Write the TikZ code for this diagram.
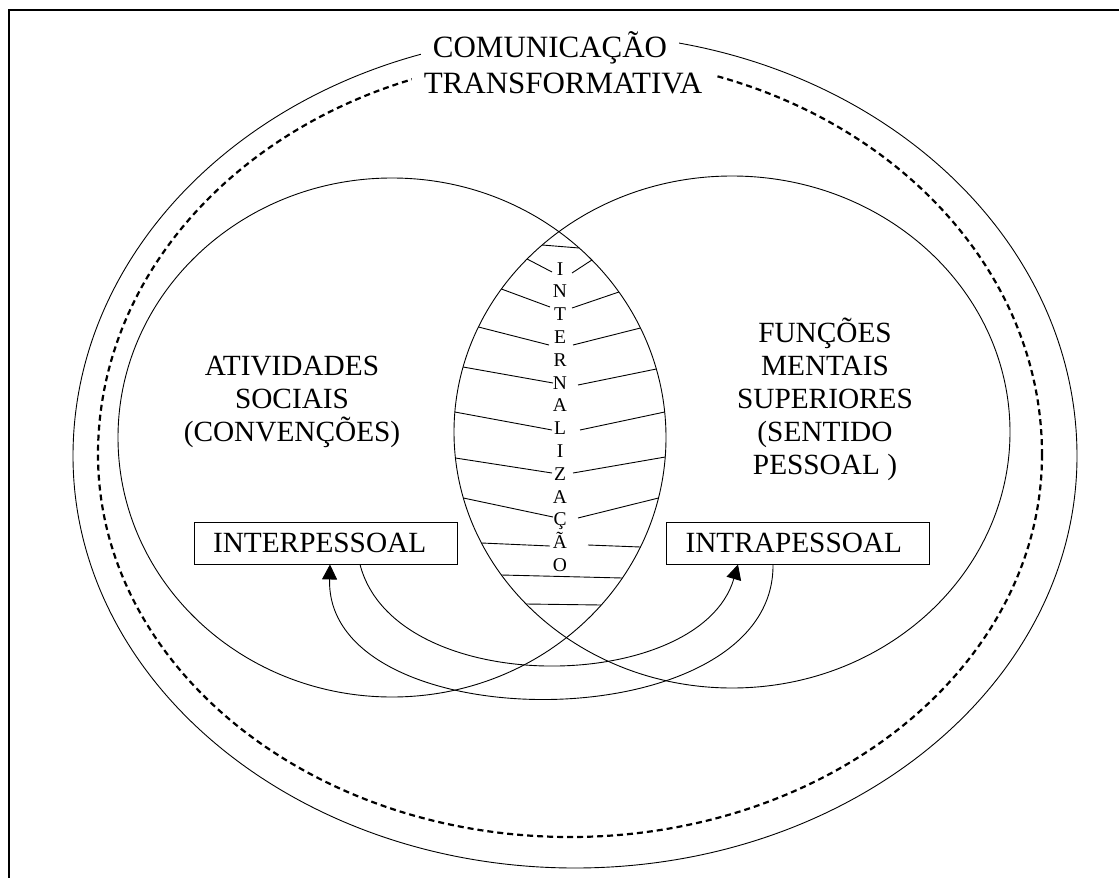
\documentclass[tikz,border=0pt]{standalone}
\usepackage{fontspec}
\setmainfont{Liberation Serif}
\usetikzlibrary{arrows.meta}

\tikzset{
  ring/.style={line width=0.9pt},
  dring/.style={line width=2.2pt, dash pattern=on 6pt off 4pt},
  frame/.style={line width=1.3pt},
  ttl/.style={font=\fontsize{31}{36}\selectfont, fill=white, inner xsep=12pt, inner ysep=7pt, anchor=base},
  lbl/.style={font=\fontsize{29.3}{33}\selectfont, align=center, inner sep=0pt, anchor=base},
  vlet/.style={font=\fontsize{19.5}{20}\selectfont, inner sep=0pt, anchor=base},
  pbox/.style={draw, line width=0.9pt, font=\fontsize{29.3}{33}\selectfont, inner xsep=19pt, text width=225pt, align=left, minimum height=42pt},
  hatch/.style={line width=0.9pt},
  flow/.style={line width=0.9pt, -{Triangle[length=15pt,width=15pt]}}
}
% sides of the overlap: left edge belongs to the right circle, right edge to the left circle
\newcommand{\lensL}[1]{732-278*sqrt(1-((#1-432)/256)^2)}
\newcommand{\lensR}[1]{392+274*sqrt(1-((#1-437.5)/259.5)^2)}

\begin{document}
\begin{tikzpicture}[x=1pt,y=-1pt]
\useasboundingbox (0,0) rectangle (1119,878);
% page frame (open to the right and bottom)
\draw[frame] (9,900) -- (9,10) -- (1140,10);

% outer rings (lower half rounder than the upper half)
\draw[ring] (1077,456) arc[start angle=0, end angle=180, x radius=502, y radius=412]
  arc[start angle=180, end angle=360, x radius=502, y radius=422] -- cycle;
\draw[dring] (1042,454.5) arc[start angle=0, end angle=180, x radius=472, y radius=382.5]
  arc[start angle=180, end angle=360, x radius=472, y radius=398] -- cycle;
\node[ttl] (trans) at (563,93) {TRANSFORMATIVA};
\node[ttl, inner ysep=3pt] (com) at (550,57) {COMUNICAÇÃO};

% the two overlapping circles
\draw[ring] (392,437.5) ellipse [x radius=274, y radius=259.5];
\draw[ring] (732,432) ellipse [x radius=278, y radius=256];

% hatching of the overlap
\foreach \yb/\xg/\yg in {259/552/272, 289/550/307, 327/549/345, 367/553/383,
  412/552/430, 458/552/473, 498/553/517, 543/550/546}
  \draw[hatch] ({\lensL{\yb}},\yb) -- (\xg,\yg);
\foreach \xg/\yg/\yb in {572/273/260, 572/308/292, 573/345/328, 578/385/369,
  580/430/412, 573/473/457, 578/518/498, 588/545/547}
  \draw[hatch] (\xg,\yg) -- ({\lensR{\yb}},\yb);
\foreach \ya/\yb in {245/248, 575/578, 604/605}
  \draw[hatch] ({\lensL{\ya}},\ya) -- ({\lensR{\yb}},\yb);

% vertical word
\foreach \ch [count=\i from 0] in {I,N,T,E,R,N,A,L,I,Z,A,Ç,Ã,O}
  \node[vlet] (let\i) at (560,{275+22.8*\i}) {\ch};

% labels
\node[lbl] (social) at (292,441) {ATIVIDADES\\SOCIAIS\\(CONVENÇÕES)};
\node[lbl] (mental) at (825,474) {FUNÇÕES\\MENTAIS\\SUPERIORES\\(SENTIDO\\PESSOAL )};

% boxes
\node[pbox] (inter) at (325.5,543) {INTERPESSOAL};
\node[pbox] (intra) at (798,543) {INTRAPESSOAL};

% crossing arrows
\draw[flow] ([xshift=34.5pt]inter.south) .. controls (395,700) and (700,695) .. ([xshift=-60pt]intra.south);
\draw[flow] ([xshift=-25pt]intra.south) .. controls (775,742) and (325,742) .. ([xshift=4.5pt]inter.south);

\end{tikzpicture}
\end{document}
